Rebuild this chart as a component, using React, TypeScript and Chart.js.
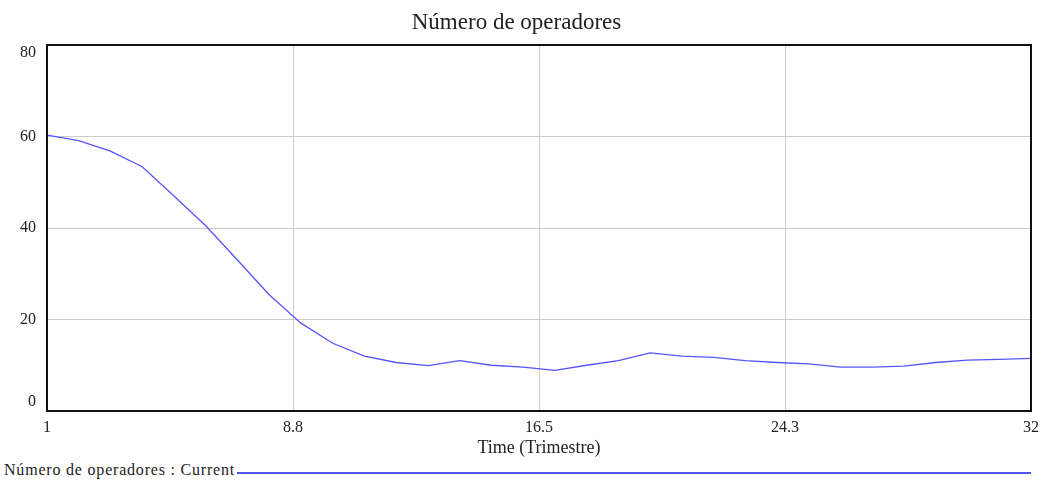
import React, { useEffect, useRef } from "react";
import { Chart, registerables } from "chart.js";

Chart.register(...registerables);

const times: number[] = [
  1, 2, 3, 4, 5, 6, 7, 8, 9, 10, 11, 12, 13, 14, 15, 16,
  17, 18, 19, 20, 21, 22, 23, 24, 25, 26, 27, 28, 29, 30, 31, 32,
];
const operadores: number[] = [
  60.3, 59.1, 56.8, 53.4, 47.0, 40.5, 33.0, 25.4, 19.2, 14.8, 12.0, 10.6, 9.9, 11.0, 10.0, 9.6,
  8.9, 10.0, 11.0, 12.7, 12.0, 11.7, 11.0, 10.6, 10.3, 9.6, 9.6, 9.8, 10.6, 11.1, 11.3, 11.5,
];
const xTicks: number[] = [1, 8.75, 16.5, 24.25, 32];
const yTicks: number[] = [0, 20, 40, 60, 80];

const chartTitle = "Número de operadores";
const xTitle = "Time (Trimestre)";
const legendLabel = "Número de operadores : Current";
const FONT = "'Liberation Serif', 'Times New Roman', serif";
const LINE_COLOR = "#5555ff";
const TEXT_COLOR = "#222";

const frame = {
  id: "frame",
  afterDatasetsDraw(chart: any) {
    const { ctx, chartArea } = chart;
    ctx.save();
    ctx.strokeStyle = "#111";
    ctx.lineWidth = 2;
    ctx.strokeRect(chartArea.left, chartArea.top, chartArea.right - chartArea.left, chartArea.bottom - chartArea.top);
    ctx.restore();
  },
};

// y labels kept inside the plot's vertical extent (top/bottom labels pushed inward)
const yLabels = {
  id: "yLabels",
  afterDraw(chart: any) {
    const { ctx, chartArea } = chart;
    const scale = chart.scales.y;
    ctx.save();
    ctx.fillStyle = TEXT_COLOR;
    ctx.font = `16px ${FONT}`;
    ctx.textAlign = "right";
    ctx.textBaseline = "middle";
    for (const v of yTicks) {
      let y = scale.getPixelForValue(v);
      y = Math.max(chartArea.top + 8, Math.min(chartArea.bottom - 9, y));
      ctx.fillText(String(v), chartArea.left - 11, y);
    }
    ctx.restore();
  },
};

export default function App() {
  const ref = useRef<HTMLCanvasElement | null>(null);
  useEffect(() => {
    if (!ref.current) return;
    const chart = new Chart(ref.current, {
      type: "line",
      data: {
        datasets: [
          {
            label: legendLabel,
            data: times.map((t, i) => ({ x: t, y: operadores[i] })),
            borderColor: LINE_COLOR,
            borderWidth: 1.3,
            pointRadius: 0,
            tension: 0,
            fill: false,
          },
        ],
      },
      options: {
        animation: false,
        responsive: false,
        layout: { padding: { left: 0, right: 13, top: 0, bottom: 0 } },
        plugins: {
          legend: { display: false },
          tooltip: { enabled: false },
          title: {
            display: true,
            text: chartTitle,
            color: TEXT_COLOR,
            font: { family: FONT, size: 23, weight: "normal" },
            padding: { top: 9, bottom: 8.4 },
          },
        },
        scales: {
          x: {
            type: "linear",
            min: 1,
            max: 32,
            afterBuildTicks: (scale: any) => {
              scale.ticks = xTicks.map((v) => ({ value: v }));
            },
            afterFit: (scale: any) => {
              scale.height = 48;
            },
            ticks: {
              color: TEXT_COLOR,
              font: { family: FONT, size: 16 },
              padding: 7,
              maxRotation: 0,
              callback: (v: any) => String(Math.round(Number(v) * 10) / 10),
            },
            grid: { color: "#cccccc", lineWidth: 1, drawTicks: false },
            border: { display: false },
            title: {
              display: true,
              text: xTitle,
              color: TEXT_COLOR,
              font: { family: FONT, size: 18 },
              padding: { top: 0, bottom: 0 },
            },
          },
          y: {
            min: 0,
            max: 80,
            afterBuildTicks: (scale: any) => {
              scale.ticks = yTicks.map((v) => ({ value: v }));
            },
            afterFit: (scale: any) => {
              scale.width = 47;
            },
            ticks: { display: false },
            grid: { color: "#cccccc", lineWidth: 1, drawTicks: false },
            border: { display: false },
          },
        },
      },
      plugins: [frame, yLabels],
    });
    return () => chart.destroy();
  }, []);

  return (
    <div style={{ position: "absolute", left: 0, top: 0, width: 1046, height: 482, background: "#fff" }}>
      <canvas ref={ref} width={1046} height={459} style={{ display: "block", width: 1046, height: 459 }} />
      <div
        style={{
          position: "absolute",
          left: 4,
          top: 461,
          display: "flex",
          alignItems: "center",
          fontFamily: FONT,
          fontSize: 16,
          letterSpacing: "0.8px",
          lineHeight: "18px",
          color: TEXT_COLOR,
          whiteSpace: "nowrap",
        }}
      >
        <span>{legendLabel}</span>
        <span
          style={{
            display: "inline-block",
            position: "absolute",
            left: 233,
            top: 11,
            width: 794,
            height: 2,
            background: LINE_COLOR,
          }}
        />
      </div>
    </div>
  );
}
